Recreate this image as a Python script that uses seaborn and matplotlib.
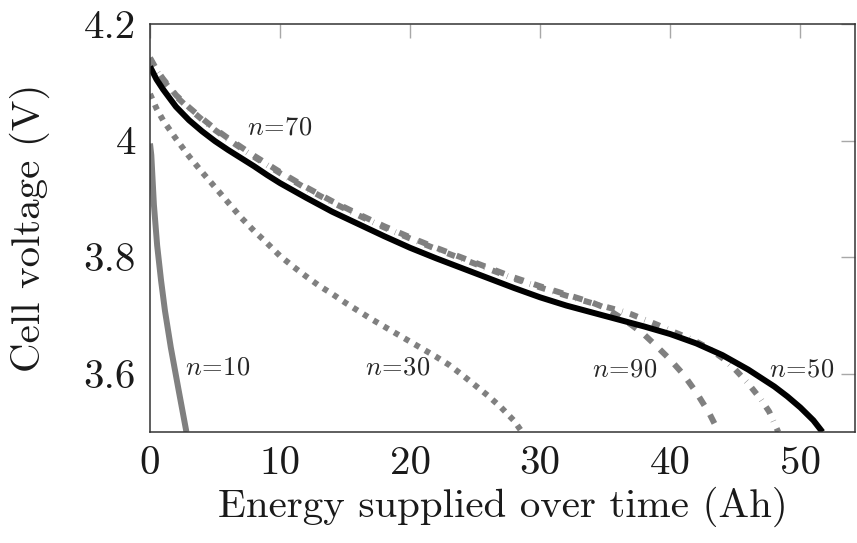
import matplotlib
matplotlib.use("Agg")
import matplotlib.pyplot as plt
import seaborn as sns
import pandas as pd

# ---- data ----
x10 = [0.0, 0.1, 0.3, 0.55, 0.85, 1.15, 1.6, 2.2, 2.8]
v10 = [3.995, 3.975, 3.89, 3.82, 3.76, 3.708, 3.645, 3.572, 3.50]

x30 = [0, 0.5, 1, 2, 3, 4, 5, 6, 7, 8, 9, 10, 11, 12, 13, 14, 15, 16, 17, 18,
       19, 20, 21, 22, 23, 24, 25, 26, 27, 28, 28.6]
v30 = [4.08, 4.055, 4.035, 4.003, 3.973, 3.946, 3.92, 3.894, 3.868, 3.845, 3.824,
       3.802, 3.784, 3.767, 3.751, 3.737, 3.722, 3.708, 3.694, 3.681, 3.668, 3.655,
       3.642, 3.629, 3.615, 3.598, 3.58, 3.562, 3.542, 3.519, 3.50]

x50 = [0, 0.5, 1, 2, 3, 4, 5, 6, 7, 8, 9, 10, 12, 14, 16, 18, 20, 22, 24, 26, 28,
       30, 32, 34, 36, 38, 40, 42, 44, 46, 48, 49, 50, 51, 51.7]
v50 = [4.127, 4.105, 4.088, 4.058, 4.035, 4.016, 3.999, 3.984, 3.97, 3.956, 3.941,
       3.927, 3.902, 3.878, 3.857, 3.836, 3.816, 3.798, 3.781, 3.764, 3.747, 3.731,
       3.717, 3.705, 3.693, 3.681, 3.668, 3.652, 3.632, 3.607, 3.578, 3.561, 3.542,
       3.52, 3.50]

x70 = [0, 0.5, 1, 2, 3, 4, 5, 6, 7, 8, 9, 10, 12, 14, 16, 18, 20, 22, 24, 26, 28,
       30, 32, 34, 35, 36, 37, 38, 39, 40, 41, 42, 43, 44, 45, 46, 47, 47.6, 48.3]
v70 = [4.14, 4.12, 4.104, 4.076, 4.055, 4.036, 4.018, 4.002, 3.987, 3.972, 3.958,
       3.944, 3.918, 3.894, 3.872, 3.851, 3.832, 3.814, 3.797, 3.78, 3.763, 3.748,
       3.734, 3.721, 3.715, 3.709, 3.702, 3.693, 3.684, 3.674, 3.665, 3.655, 3.643,
       3.627, 3.607, 3.583, 3.555, 3.535, 3.50]

x90 = [0, 0.5, 1, 2, 3, 4, 5, 6, 7, 8, 9, 10, 12, 14, 16, 18, 20, 22, 24, 26, 28,
       30, 32, 34, 35, 36, 37, 38, 39, 40, 41, 42, 43, 43.5, 43.7]
v90 = [4.142, 4.122, 4.106, 4.078, 4.057, 4.038, 4.02, 4.004, 3.989, 3.974, 3.96,
       3.946, 3.92, 3.896, 3.874, 3.853, 3.834, 3.816, 3.799, 3.782, 3.765, 3.75,
       3.736, 3.722, 3.713, 3.699, 3.684, 3.667, 3.646, 3.624, 3.599, 3.568, 3.532,
       3.51, 3.50]

labels = ["$n\\!=\\!10$", "$n\\!=\\!30$", "$n\\!=\\!50$", "$n\\!=\\!70$", "$n\\!=\\!90$"]
label_x = [5.2, 19.0, 50.1, 10.0, 36.5]
label_y = [3.61, 3.61, 3.607, 4.022, 3.607]

xticks = [0, 10, 20, 30, 40, 50]
xticklabels = ["0", "10", "20", "30", "40", "50"]
yticks = [3.6, 3.8, 4.0, 4.2]
yticklabels = ["3.6", "3.8", "4", "4.2"]

# ---- style ----
sns.set_style("white")
plt.rcParams["font.family"] = ["cmr10", "DejaVu Serif"]
plt.rcParams["mathtext.fontset"] = "cm"
plt.rcParams["axes.formatter.use_mathtext"] = True
plt.rcParams["lines.scale_dashes"] = True

GRAY = "#808080"
LW = 4.3

fig = plt.figure(figsize=(8.57, 5.43), dpi=100)
ax = fig.add_axes([150 / 857, (543 - 432) / 543, 705 / 857, 408 / 543])

def draw(x, y, color, ls):
    df = pd.DataFrame({"x": x, "y": y})
    sns.lineplot(data=df, x="x", y="y", ax=ax, color=color, linewidth=LW,
                 linestyle=ls, dash_capstyle="butt", solid_capstyle="butt",
                 solid_joinstyle="round", sort=False, estimator=None)

draw(x10, v10, GRAY, "-")
draw(x30, v30, GRAY, (0, (0.9, 1.1)))
draw(x70, v70, GRAY, (0, (1.35, 1.3, 0.08, 1.3)))
draw(x90, v90, GRAY, (0, (1.65, 1.8)))
draw(x50, v50, "black", "-")

for t, xx, yy in zip(labels, label_x, label_y):
    ax.text(xx, yy, t, fontsize=19, ha="center", va="center")

ax.set_xlim(0, 54.2)
ax.set_ylim(3.5, 4.2)
ax.set_xticks(xticks)
ax.set_xticklabels(xticklabels)
ax.set_yticks(yticks)
ax.set_yticklabels(yticklabels)
ax.tick_params(direction="in", length=10, width=1.0, color="#a8a8a8",
               top=True, right=True, labelsize=29.5, pad=10,
               labelcolor="#1a1a1a")
for s in ax.spines.values():
    s.set_visible(True)
    s.set_color("#333333")
    s.set_linewidth(1.1)

ax.set_xlabel("Energy supplied over time (Ah)", fontsize=29.5, color="#1a1a1a")
ax.set_ylabel("Cell voltage (V)", fontsize=29.5, color="#1a1a1a")
ax.xaxis.set_label_coords(0.5, -0.184)
ax.xaxis.label.set_va("center")
ax.yaxis.set_label_coords(-0.170, 0.5)
ax.yaxis.label.set_va("center")

fig.savefig("out.png", dpi=100)
